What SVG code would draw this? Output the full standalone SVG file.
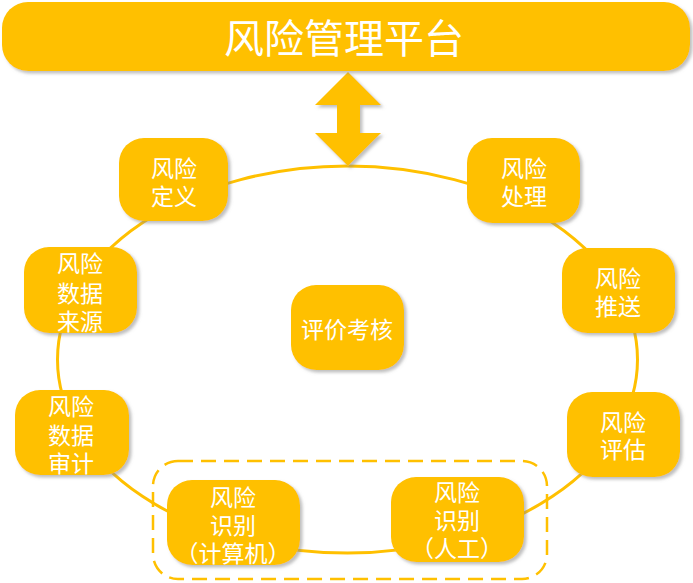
<svg xmlns="http://www.w3.org/2000/svg" width="693" height="583" viewBox="0 0 693 583">
<defs>
<filter id="sh" x="-10%" y="-10%" width="130%" height="130%">
<feDropShadow dx="2.5" dy="2.5" stdDeviation="1.5" flood-color="#8a8a8a" flood-opacity="0.55"/>
</filter>
<style>
.box{fill:#FFC000;filter:url(#sh);}
.t{fill:#ffffff;font-family:"Noto Sans CJK SC","Noto Sans",sans-serif;font-size:23px;text-anchor:middle;dominant-baseline:central;}
.title{font-size:40px;}
.ring{fill:none;stroke:#FFC000;stroke-width:3;}
.dash{fill:none;stroke:#FFC000;stroke-width:2.5;stroke-dasharray:15 8;}
</style>
</defs>
<rect width="693" height="583" fill="#ffffff"/>
<g id="connectors">
<ellipse class="ring" cx="347.5" cy="359.5" rx="290" ry="193.5"/>
<polygon class="box" points="348,72 381,105 360,105 360,133 381,133 348,166 315,133 337,133 337,105 315,105"/>
</g>
<g id="group-recognition">
<rect class="dash" x="153" y="461" width="394" height="118" rx="25"/>
</g>
<g id="platform">
<rect class="box" x="2" y="2" width="688" height="69" rx="26"/>
<text class="t title" x="344" y="36">风险管理平台</text>
</g>
<g id="node-define">
<rect class="box" x="119" y="138" width="109" height="83" rx="25"/>
<text class="t" x="174" y="167">风险</text>
<text class="t" x="174" y="195">定义</text>
</g>
<g id="node-handle">
<rect class="box" x="467" y="138" width="113" height="85" rx="25"/>
<text class="t" x="524" y="167">风险</text>
<text class="t" x="524" y="195">处理</text>
</g>
<g id="node-source">
<rect class="box" x="24" y="247" width="113" height="86" rx="25"/>
<text class="t" x="80" y="262">风险</text>
<text class="t" x="80" y="292">数据</text>
<text class="t" x="80" y="320">来源</text>
</g>
<g id="node-push">
<rect class="box" x="562" y="248" width="113" height="85" rx="25"/>
<text class="t" x="618" y="277">风险</text>
<text class="t" x="618" y="305">推送</text>
</g>
<g id="node-evaluation">
<rect class="box" x="291" y="285" width="113" height="85" rx="25"/>
<text class="t" x="347" y="328">评价考核</text>
</g>
<g id="node-audit">
<rect class="box" x="15" y="390" width="114" height="85" rx="25"/>
<text class="t" x="71" y="405">风险</text>
<text class="t" x="71" y="434">数据</text>
<text class="t" x="71" y="462">审计</text>
</g>
<g id="node-assess">
<rect class="box" x="567" y="392" width="113" height="85" rx="25"/>
<text class="t" x="623" y="421">风险</text>
<text class="t" x="623" y="448">评估</text>
</g>
<g id="node-recog-computer">
<rect class="box" x="167" y="480" width="133" height="85" rx="25"/>
<text class="t" x="233" y="496">风险</text>
<text class="t" x="233" y="524">识别</text>
<text class="t" x="233" y="552">（计算机）</text>
</g>
<g id="node-recog-manual">
<rect class="box" x="391" y="477" width="133" height="85" rx="25"/>
<text class="t" x="457" y="491">风险</text>
<text class="t" x="457" y="519">识别</text>
<text class="t" x="457" y="547">（人工）</text>
</g>
</svg>
